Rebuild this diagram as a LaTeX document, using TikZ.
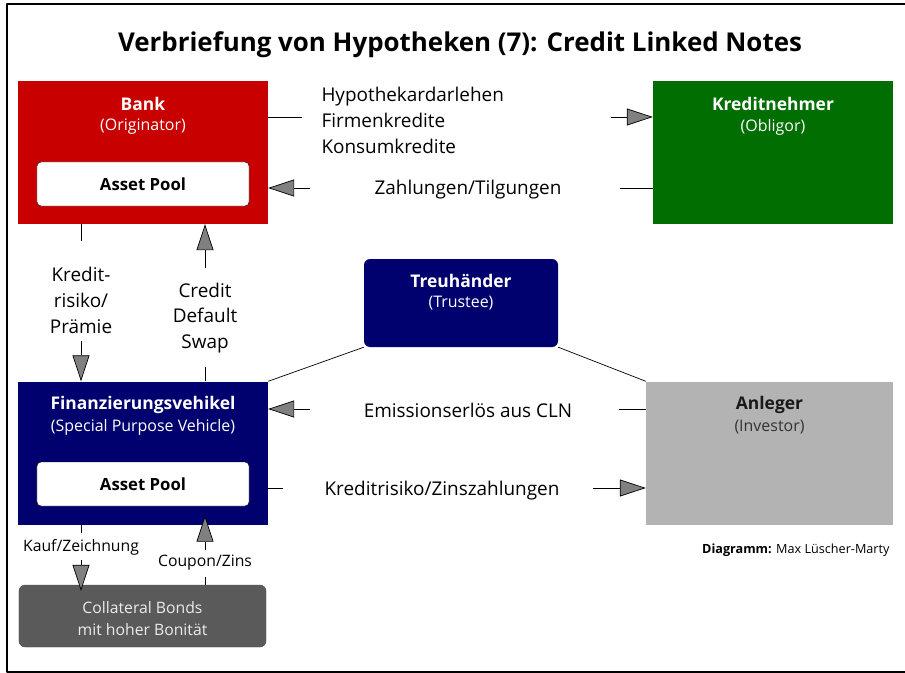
\documentclass[tikz,border=0pt]{standalone}
\usepackage{fontspec}
\setmainfont{Open Sans}
\usetikzlibrary{arrows.meta}
\definecolor{bankrot}{RGB}{200,0,0}
\definecolor{kreditgruen}{RGB}{0,110,0}
\definecolor{marine}{RGB}{0,0,110}
\definecolor{anlegergrau}{RGB}{179,179,179}
\definecolor{bondgrau}{RGB}{90,90,90}
\definecolor{pfeilgrau}{RGB}{128,128,128}
\begin{document}
\begin{tikzpicture}[x=1bp,y=-1bp,>={Triangle[length=26bp,width=17bp,fill=pfeilgrau]},line join=bevel,
  box/.style={draw=none,minimum width=250bp,minimum height=143bp,inner sep=0},
  pool/.style={draw=black,fill=white,rounded corners=4bp,minimum width=212bp,minimum height=44bp,font=\fontsize{16.8}{20}\selectfont\bfseries},
  titel/.style={font=\fontsize{17.5}{20}\selectfont\bfseries,text=white},
  untertitel/.style={font=\fontsize{16}{19}\selectfont,text=white},
  lbl/.style={font=\fontsize{19}{26}\selectfont,align=center},
  klein/.style={font=\fontsize{15.8}{18}\selectfont},
  verb/.style={line width=0.7bp}]
%%
\useasboundingbox (0,0) rectangle (905,673);
\draw[line width=2bp] (905,4) -- (7,4) -- (7,672) -- (905,672);
\node[font=\fontsize{26}{30}\selectfont\bfseries] (titel) at (460,45) {Verbriefung von Hypotheken (7): Credit Linked Notes};
%% boxes
\node[box,fill=bankrot] (bank) at (143,152.5) {};
\node[box,fill=kreditgruen,minimum width=240bp] (kredn) at (773,152.5) {};
\node[box,fill=marine,rounded corners=6bp,minimum width=194bp,minimum height=88bp] (treu) at (461,303) {};
\node[box,fill=marine] (spv) at (143,453) {};
\node[box,fill=anlegergrau,minimum width=247bp] (anl) at (769.5,453) {};
\node[box,fill=bondgrau,draw=black!70,rounded corners=6bp,minimum width=247bp,minimum height=62bp] (coll) at (142.5,616) {};
\node[pool] (pool1) at (143,184) {Asset Pool};
\node[pool] (pool2) at (143,484) {Asset Pool};
%% box texts
\node[titel] (bankt) at (143,104) {Bank};
\node[untertitel] (banku) at (143,127) {(Originator)};
\node[titel] (krednt) at (773,104) {Kreditnehmer};
\node[untertitel] (krednu) at (773,127) {(Obligor)};
\node[titel] (treut) at (461,281) {Treuhänder};
\node[untertitel] (treuu) at (461,303) {(Trustee)};
\node[titel] (spvt) at (143,405) {Finanzierungsvehikel};
\node[untertitel] (spvu) at (143,427) {(Special Purpose Vehicle)};
\node[titel,text=black!90] (anlt) at (769.5,405) {Anleger};
\node[untertitel,text=black!80] (anlu) at (769.5,427) {(Investor)};
\node[untertitel,align=center,font=\fontsize{15.8}{22}\selectfont,text=white!92!black] (collt) at (142.5,619) {Collateral Bonds\\mit hoher Bonität};
%% labels
\node[lbl,anchor=west,align=left] (hyp) at (318,120) {Hypothekardarlehen\\Firmenkredite\\Konsumkredite};
\node[lbl] (zahl) at (468,190) {Zahlungen/Tilgungen};
\node[lbl] (krisk) at (81,300) {Kredit-\\risiko/\\Prämie};
\node[lbl] (cds) at (205,318) {Credit\\Default\\Swap};
\node[lbl] (emis) at (468,410) {Emissionserlös aus CLN};
\node[lbl] (kzins) at (442,491) {Kreditrisiko/Zinszahlungen};
\node[klein] (kauf) at (81,547) {Kauf/Zeichnung};
\node[klein] (coup) at (205,563) {Coupon/Zins};
\node[anchor=east,font=\fontsize{12.7}{15}\selectfont] (autor) at (893,550) {\textbf{Diagramm:} Max Lüscher-Marty};
%% connectors
\coordinate (h1) at (302,117);
\coordinate (h2) at (611,117);
\draw[verb] (bank.east |- h1) -- (h1);
\draw[verb,->] (h2) -- (kredn.west |- h2);
\coordinate (z1) at (620,188);
\coordinate (z2) at (310,188);
\draw[verb] (kredn.west |- z1) -- (z1);
\draw[verb,->] (z2) -- (bank.east |- z2);
\coordinate (k1) at (81,241);
\coordinate (k2) at (81,341);
\draw[verb] (bank.south -| k1) -- (k1);
\draw[verb,->] (k2) -- (spv.north -| k2);
\coordinate (c1) at (205,367);
\coordinate (c2) at (205,268);
\draw[verb] (spv.north -| c1) -- (c1);
\draw[verb,->] (c2) -- (bank.south -| c2);
\coordinate (e1) at (619,409);
\coordinate (e2) at (310,409);
\draw[verb] (anl.west |- e1) -- (e1);
\draw[verb,->] (e2) -- (spv.east |- e2);
\coordinate (r1) at (283,488);
\coordinate (r2) at (593,488);
\draw[verb] (spv.east |- r1) -- (r1);
\draw[verb,->] (r2) -- (anl.west |- r2);
\coordinate (f1) at (81,533);
\coordinate (f2) at (81,560);
\draw[verb] (spv.south -| f1) -- (f1);
\draw[verb,->,shorten >=-6bp] (f2) -- (coll.north -| f2);
\coordinate (p1) at (205,577);
\coordinate (p2) at (205,550);
\draw[verb] (coll.north -| p1) -- (p1);
\draw[verb,->,shorten >=-9bp] (p2) -- (spv.south -| p2);
\draw[verb] (treu.south west) -- (spv.north east);
\draw[verb] (treu.south east) -- (anl.north west);
%
\end{tikzpicture}
\end{document}
